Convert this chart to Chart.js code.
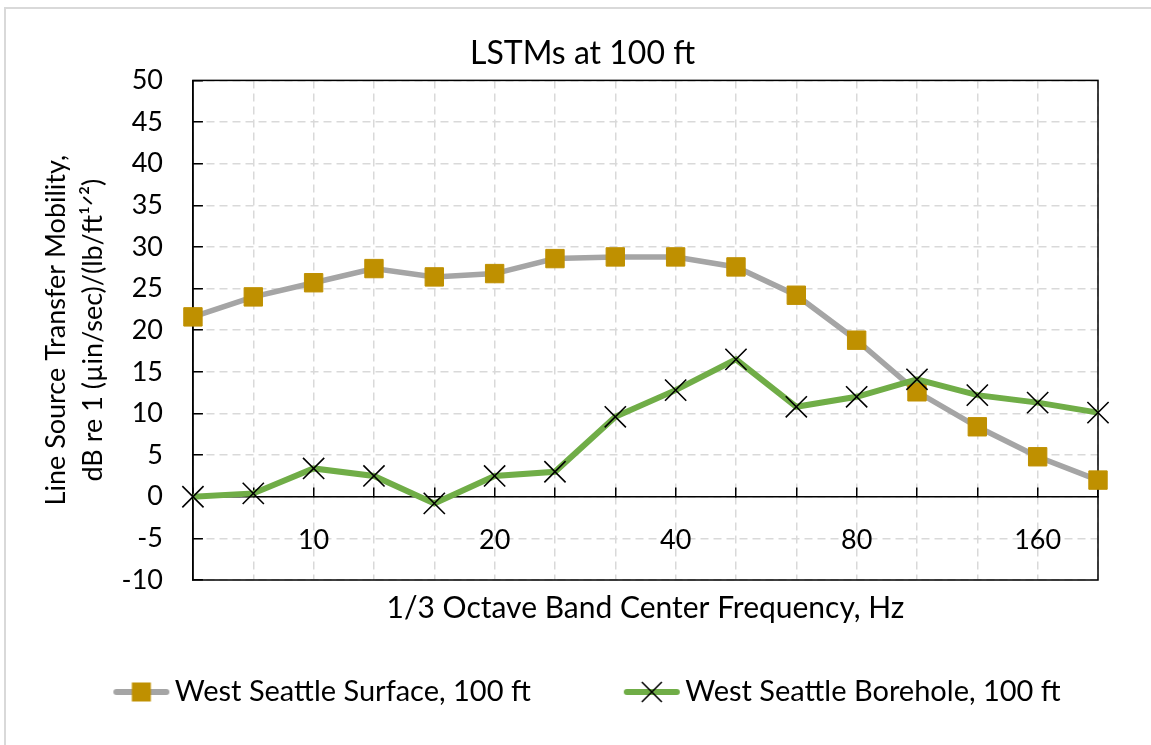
<!DOCTYPE html>
<html>
<head>
<meta charset="utf-8">
<script src="https://cdn.jsdelivr.net/npm/chart.js@4.4.1/dist/chart.umd.min.js"></script>
<style>
  body { margin: 0; background: #fff; }
  #wrap { position: relative; width: 1151px; height: 745px; }
  #frame { position: absolute; left: 4px; top: 7px; right: 0; bottom: 0;
           border-left: 2px solid #d9d9d9; border-top: 2px solid #d9d9d9; }
  #lstm { position: absolute; left: 0; top: 0; }
</style>
</head>
<body>
<div id="wrap">
  <div id="frame"></div>
  <canvas id="lstm" width="1151" height="745"></canvas>
</div>
<script>
// 1/3 octave band centre frequencies, Hz
const bands = ['6.3', '8', '10', '12.5', '16', '20', '25', '31.5', '40', '50', '63', '80', '100', '125', '160', '200'];
// only these bands get a label on the x axis
const bandLabels = ['10', '20', '40', '80', '160'];

// LSTM, dB re 1 (µin/sec)/(lb/ft^1/2)
const surface = [21.6, 24.0, 25.7, 27.4, 26.4, 26.8, 28.6, 28.8, 28.8, 27.6, 24.2, 18.8, 12.6, 8.4, 4.8, 2.0];
const borehole = [0.0, 0.4, 3.4, 2.5, -0.8, 2.5, 3.0, 9.6, 12.8, 16.5, 10.8, 12.0, 14.1, 12.2, 11.3, 10.1];

const yMin = -10;
const yMax = 50;
const yStep = 5;

const FONT = 'Lato, "Open Sans", sans-serif';
const GRID = '#d9d9d9';

// line + marker pictures for the legend (drawn a bit right of the box centre)
function legendIcon(lineColor, marker) {
  const c = document.createElement('canvas');
  c.width = 80; c.height = 26;
  const g = c.getContext('2d');
  g.strokeStyle = lineColor;
  g.lineWidth = 6;
  g.lineCap = 'round';
  g.beginPath(); g.moveTo(24, 13); g.lineTo(74, 13); g.stroke();
  if (marker === 'square') {
    g.fillStyle = '#BF9000';
    g.fillRect(39.5, 3.5, 19, 19);
  } else {
    g.strokeStyle = '#000';
    g.lineWidth = 1.6;
    g.lineCap = 'butt';
    g.beginPath();
    g.moveTo(39, 3); g.lineTo(59, 23);
    g.moveTo(59, 3); g.lineTo(39, 23);
    g.stroke();
  }
  return c;
}
const icons = [legendIcon('#A5A5A5', 'square'), legendIcon('#70AD47', 'x')];

// black box round the plot area, under the markers
const plotBox = {
  id: 'plotBox',
  beforeDatasetsDraw(chart) {
    const a = chart.chartArea;
    const ctx = chart.ctx;
    ctx.save();
    ctx.strokeStyle = '#000';
    ctx.lineWidth = 1.5;
    ctx.strokeRect(a.left, a.top, a.right - a.left, a.bottom - a.top);
    ctx.restore();
  }
};

new Chart(document.getElementById('lstm'), {
  type: 'line',
  data: {
    labels: bands,
    datasets: [{
      label: 'West Seattle Surface, 100 ft',
      data: surface,
      borderColor: '#A5A5A5',
      borderWidth: 5.5,
      pointStyle: 'rect',
      pointRadius: 13,
      pointBackgroundColor: '#BF9000',
      pointBorderColor: '#BF9000',
      pointBorderWidth: 1,
      tension: 0,
      clip: false,
      order: 1
    }, {
      label: 'West Seattle Borehole, 100 ft',
      data: borehole,
      borderColor: '#70AD47',
      borderWidth: 6,
      pointStyle: 'crossRot',
      pointRadius: 15,
      pointBorderColor: '#000',
      pointBorderWidth: 1.6,
      tension: 0,
      clip: false,
      order: 0
    }]
  },
  options: {
    responsive: false,
    animation: false,
    events: [],
    layout: { padding: { left: 14, right: 0, top: 8, bottom: 28.5 } },
    plugins: {
      title: {
        display: true,
        text: 'LSTMs at 100 ft',
        color: '#000',
        font: { family: FONT, size: 32, weight: 'normal' },
        padding: { top: 26, bottom: 8 }
      },
      legend: {
        position: 'bottom',
        labels: {
          color: '#000',
          font: { family: FONT, size: 29 },
          usePointStyle: true,
          pointStyleWidth: 56,
          padding: 84,
          generateLabels: (chart) => chart.data.datasets.map((ds, i) => ({
            text: ds.label,
            pointStyle: icons[i],
            datasetIndex: i,
            fontColor: '#000',
            lineWidth: 0,
            strokeStyle: 'transparent',
            fillStyle: 'transparent'
          }))
        }
      },
      tooltip: { enabled: false }
    },
    scales: {
      x: {
        type: 'category',
        position: { y: 0 },
        grid: {
          color: GRID,
          lineWidth: 1.5,
          tickLength: -10,
          tickColor: '#000',
          tickWidth: 1.5,
          borderDash: [8, 5]
        },
        border: { display: true, color: '#000', width: 1.5, dash: [8, 5] },
        ticks: {
          color: '#000',
          font: { family: FONT, size: 27 },
          padding: 37,
          autoSkip: false,
          maxRotation: 0,
          callback(value) {
            const lab = this.getLabelForValue(value);
            return bandLabels.includes(lab) ? lab : '';
          }
        }
      },
      // carries the x axis title below the plot area
      x2: {
        type: 'category',
        position: 'bottom',
        grid: { display: false, drawTicks: false },
        border: { display: false },
        ticks: { display: false },
        title: {
          display: true,
          text: '1/3 Octave Band Center Frequency, Hz',
          color: '#000',
          font: { family: FONT, size: 30 },
          padding: { top: 10, bottom: -32.5 }
        }
      },
      y: {
        min: yMin,
        max: yMax,
        grid: {
          color: GRID,
          lineWidth: 1.5,
          tickLength: -10,
          tickColor: '#000',
          tickWidth: 1.5,
          borderDash: [8, 5]
        },
        border: { display: true, color: '#000', width: 1.5, dash: [8, 5] },
        ticks: {
          stepSize: yStep,
          autoSkip: false,
          color: '#000',
          font: { family: FONT, size: 27 },
          padding: 40
        },
        title: {
          display: true,
          text: ['Line Source Transfer Mobility,', 'dB re 1 (µin/sec)/(lb/ft¹ᐟ²)'],
          color: '#000',
          font: { family: FONT, size: 27, lineHeight: 1.4 },
          padding: { top: 23, bottom: -31 }
        }
      },
      // empty right-hand margin
      y2: {
        position: 'right',
        grid: { display: false, drawTicks: false },
        border: { display: false },
        ticks: { display: false },
        afterFit(scale) { scale.width = 53; }
      }
    }
  },
  plugins: [plotBox]
});
</script>
</body>
</html>
